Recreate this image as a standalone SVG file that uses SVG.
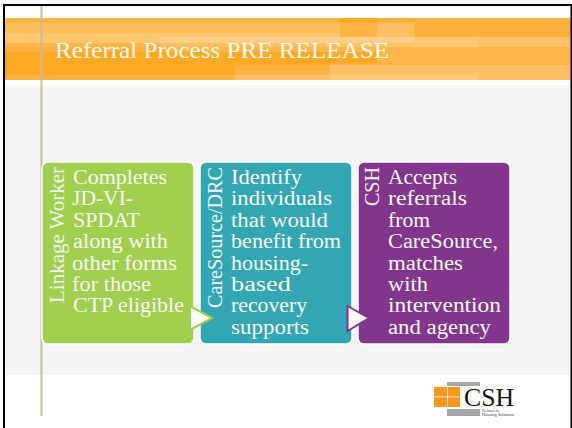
<svg xmlns="http://www.w3.org/2000/svg" width="572" height="428" viewBox="0 0 572 428">
<style>
text{font-family:"Liberation Serif","DejaVu Serif",serif;fill:#fff}
.b{font-size:20px;fill:#fbfbf6}
.v{font-size:20px;fill:#f6f6f0}
.box{stroke:#fff;stroke-width:1.5}
.arr{fill:#fff;stroke-width:2}
</style>
<rect width="572" height="428" fill="#fff"/>
<g id="header-band" shape-rendering="crispEdges">
<rect x="5" y="18" width="567" height="62" fill="#fea926"/>
<rect x="5" y="18" width="335" height="5" fill="#fdb343"/><rect x="377" y="18" width="195" height="5" fill="#fdb03c"/>
<rect x="5" y="23" width="335" height="10" fill="#fdbd5c"/><rect x="340" y="23" width="37" height="14" fill="#fdb343"/><rect x="377" y="23" width="37" height="14" fill="#fdbf60"/><rect x="414" y="23" width="158" height="14" fill="#fdb03c"/>
<rect x="5" y="33" width="335" height="4" fill="#fdc770"/>
<rect x="5" y="37" width="155" height="6" fill="#fdc770"/><rect x="160" y="37" width="254" height="6" fill="#fdd08a"/><rect x="414" y="37" width="64" height="10" fill="#fdc770"/><rect x="478" y="37" width="94" height="10" fill="#fdc268"/>
<rect x="5" y="43" width="155" height="4" fill="#fdb648"/><rect x="160" y="43" width="180" height="4" fill="#fdc060"/><rect x="340" y="43" width="74" height="4" fill="#fdc468"/>
<rect x="5" y="47" width="155" height="5" fill="#fdb040"/><rect x="160" y="47" width="318" height="5" fill="#fdb648"/><rect x="478" y="47" width="94" height="16" fill="#fdb648"/>
<rect x="377" y="52" width="101" height="11" fill="#fdb648"/>
<rect x="330" y="63" width="242" height="2" fill="#fdb040"/>
<rect x="235" y="65" width="95" height="5" fill="#fdb040"/><rect x="330" y="65" width="242" height="15" fill="#fdc066"/>
<rect x="235" y="70" width="95" height="5" fill="#fdb445"/>
<rect x="5" y="75" width="50" height="5" fill="#fdb040"/><rect x="55" y="70" width="180" height="5" fill="#fea926"/><rect x="55" y="75" width="180" height="5" fill="#fdb445"/><rect x="235" y="75" width="95" height="5" fill="#fdc066"/><rect x="330" y="75" width="148" height="5" fill="#fdc878"/>
</g>
<rect id="panel" x="5" y="85" width="567" height="290" fill="#f5f5f5"/>
<g id="frame" fill="#000"><rect x="3" y="4" width="569" height="2"/><rect x="3" y="4" width="2" height="424"/><rect x="570.500" y="4" width="1.500" height="424"/></g>
<rect id="rule" x="40.500" y="6" width="2" height="410" fill="#cdb999"/>
<text id="title" x="55" y="58" textLength="334" lengthAdjust="spacingAndGlyphs" style="font-size:24px;fill:#fff8ec">Referral Process PRE RELEASE</text>

<g id="node-linkage">
<rect class="box" x="42" y="162" width="152" height="182" rx="6" fill="#a0ce4e"/>
<text class="v" transform="translate(64,303) rotate(-90)" textLength="136" lengthAdjust="spacingAndGlyphs">Linkage Worker</text>
<text class="b" x="73" y="184" textLength="94" lengthAdjust="spacingAndGlyphs">Completes</text>
<text class="b" x="72" y="205" textLength="61" lengthAdjust="spacingAndGlyphs">JD-VI-</text>
<text class="b" x="73" y="227" textLength="67" lengthAdjust="spacingAndGlyphs">SPDAT</text>
<text class="b" x="73" y="248" textLength="95" lengthAdjust="spacingAndGlyphs">along with</text>
<text class="b" x="72" y="270" textLength="105" lengthAdjust="spacingAndGlyphs">other forms</text>
<text class="b" x="72" y="291" textLength="79" lengthAdjust="spacingAndGlyphs">for those</text>
<text class="b" x="73" y="312" textLength="111" lengthAdjust="spacingAndGlyphs">CTP eligible</text>
</g>
<g id="node-caresource">
<rect class="box" x="200" y="162" width="152" height="182" rx="6" fill="#33a6b4"/>
<text class="v" transform="translate(222,308) rotate(-90)" textLength="141" lengthAdjust="spacingAndGlyphs">CareSource/DRC</text>
<text class="b" x="231" y="184" textLength="71" lengthAdjust="spacingAndGlyphs">Identify</text>
<text class="b" x="231" y="205" textLength="101" lengthAdjust="spacingAndGlyphs">individuals</text>
<text class="b" x="231" y="227" textLength="97" lengthAdjust="spacingAndGlyphs">that would</text>
<text class="b" x="231" y="248" textLength="110" lengthAdjust="spacingAndGlyphs">benefit from</text>
<text class="b" x="231" y="270" textLength="77" lengthAdjust="spacingAndGlyphs">housing-</text>
<text class="b" x="231" y="291" textLength="60" lengthAdjust="spacingAndGlyphs">based</text>
<text class="b" x="231" y="312" textLength="76" lengthAdjust="spacingAndGlyphs">recovery</text>
<text class="b" x="231" y="334" textLength="78" lengthAdjust="spacingAndGlyphs">supports</text>
</g>
<g id="node-csh">
<rect class="box" x="358" y="162" width="152" height="182" rx="6" fill="#82358c"/>
<text class="v" transform="translate(379,206) rotate(-90)" textLength="39" lengthAdjust="spacingAndGlyphs">CSH</text>
<text class="b" x="388" y="184" textLength="69" lengthAdjust="spacingAndGlyphs">Accepts</text>
<text class="b" x="388" y="205" textLength="79" lengthAdjust="spacingAndGlyphs">referrals</text>
<text class="b" x="388" y="227" textLength="42" lengthAdjust="spacingAndGlyphs">from</text>
<text class="b" x="388" y="248" textLength="110" lengthAdjust="spacingAndGlyphs">CareSource,</text>
<text class="b" x="388" y="270" textLength="75" lengthAdjust="spacingAndGlyphs">matches</text>
<text class="b" x="388" y="291" textLength="40" lengthAdjust="spacingAndGlyphs">with</text>
<text class="b" x="388" y="312" textLength="113" lengthAdjust="spacingAndGlyphs">intervention</text>
<text class="b" x="388" y="334" textLength="103" lengthAdjust="spacingAndGlyphs">and agency</text>
</g>
<g id="connectors">
<polygon class="arr" points="190,306 212,318 190,330" stroke="#a0ce4e"/>
<polygon class="arr" points="347.500,306 369,318 347.500,331" stroke="#82358c"/>
</g>
<g id="logo">
<rect x="447" y="382" width="33" height="4" fill="#a6a6a6"/>
<rect x="447" y="409" width="33" height="7" fill="#a6a6a6"/>
<g fill="#f7971e"><rect x="434" y="387" width="13" height="9.500"/><rect x="447.700" y="387" width="12.300" height="9.500"/><rect x="434" y="397.300" width="13" height="9.700"/><rect x="447.700" y="397.300" width="12.300" height="9.700"/></g>
<text x="464" y="406" textLength="50" lengthAdjust="spacingAndGlyphs" style="font-size:25px;fill:#111">CSH</text>
<text x="482" y="412" textLength="17" lengthAdjust="spacingAndGlyphs" style="font-size:3px;fill:#333">The Source for</text>
<text x="482" y="416" textLength="32" lengthAdjust="spacingAndGlyphs" style="font-size:3px;fill:#333">Housing Solutions</text>
</g>
</svg>
